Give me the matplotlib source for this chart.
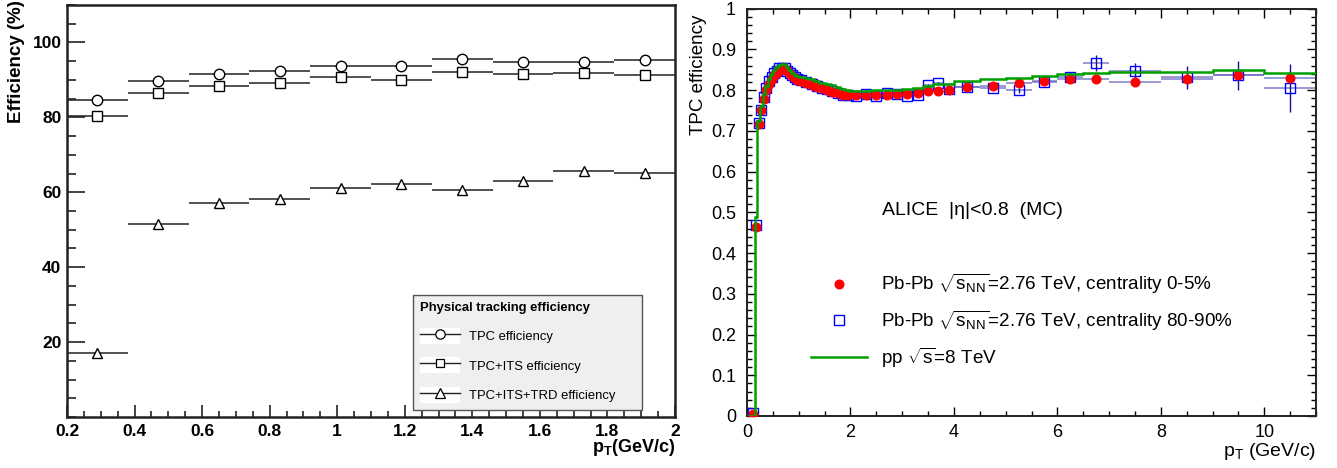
"""Tracking efficiency vs pT: ALICE physical tracking efficiency (left) and
TPC efficiency for Pb-Pb / pp MC (right)."""

import matplotlib

matplotlib.use("Agg")
import matplotlib.pyplot as plt
from matplotlib.lines import Line2D
from matplotlib.patches import Rectangle
from matplotlib.ticker import MultipleLocator

plt.rcParams["font.family"] = ["Liberation Sans", "DejaVu Sans"]
plt.rcParams["mathtext.fontset"] = "custom"
plt.rcParams["mathtext.rm"] = "Liberation Sans"
plt.rcParams["mathtext.it"] = "Liberation Sans:italic"
plt.rcParams["mathtext.bf"] = "Liberation Sans:bold"

# ---- left panel: physical tracking efficiency (%) ----
left_pt = [0.29, 0.47, 0.65, 0.83, 1.01, 1.19, 1.37, 1.55, 1.73, 1.91]
left_halfwidth = 0.09
tpc_eff = [84.7, 89.8, 91.5, 92.5, 93.7, 93.6, 95.7, 94.8, 94.7, 95.4]
tpc_its_eff = [80.3, 86.4, 88.3, 89.2, 90.8, 90.0, 92.1, 91.6, 91.9, 91.3]
tpc_its_trd_eff = [17.2, 51.6, 57.1, 58.2, 61.2, 62.3, 60.7, 63.1, 65.6, 65.2]
left_labels = ["TPC efficiency", "TPC+ITS efficiency", "TPC+ITS+TRD efficiency"]
left_xticks = [0.2, 0.4, 0.6, 0.8, 1.0, 1.2, 1.4, 1.6, 1.8, 2.0]
left_xticklabels = ["0.2", "0.4", "0.6", "0.8", "1", "1.2", "1.4", "1.6", "1.8", "2"]
left_yticks = [20, 40, 60, 80, 100]

# ---- right panel: TPC efficiency ----
pbpb_pt = [0.125, 0.175, 0.225, 0.275, 0.325, 0.375, 0.425, 0.475, 0.525, 0.575,
           0.625, 0.675, 0.725, 0.775, 0.825, 0.875, 0.925, 0.975,
           1.05, 1.15, 1.25, 1.35, 1.45, 1.55, 1.65, 1.75, 1.85, 1.95,
           2.1, 2.3, 2.5, 2.7, 2.9, 3.1, 3.3, 3.5, 3.7, 3.9,
           4.25, 4.75, 5.25, 5.75, 6.25, 6.75, 7.5, 8.5, 9.5, 10.5]
pbpb_xerr = [0.025] * 18 + [0.05] * 10 + [0.1] * 10 + [0.25] * 6 + [0.5] * 4
central_eff = [0.005, 0.465, 0.716, 0.750, 0.778, 0.800, 0.815, 0.827, 0.836, 0.843,
               0.849, 0.852, 0.851, 0.846, 0.840, 0.834, 0.829, 0.825,
               0.822, 0.817, 0.812, 0.808, 0.804, 0.800, 0.795, 0.792, 0.789, 0.788,
               0.787, 0.788, 0.788, 0.789, 0.790, 0.791, 0.793, 0.797, 0.797, 0.801,
               0.807, 0.811, 0.818, 0.822, 0.827, 0.826, 0.821, 0.826, 0.838, 0.830]
peripheral_eff = [0.008, 0.468, 0.718, 0.752, 0.782, 0.805, 0.822, 0.833, 0.842, 0.848,
                  0.853, 0.855, 0.853, 0.848, 0.842, 0.837, 0.832, 0.828,
                  0.824, 0.819, 0.815, 0.811, 0.806, 0.802, 0.797, 0.792, 0.789, 0.787,
                  0.785, 0.790, 0.786, 0.793, 0.790, 0.785, 0.787, 0.812, 0.817, 0.802,
                  0.807, 0.806, 0.800, 0.820, 0.833, 0.866, 0.846, 0.831, 0.836, 0.805]
peripheral_yerr = [0.002] * 38 + [0.004, 0.005, 0.006, 0.008, 0.012, 0.020,
                                  0.020, 0.028, 0.035, 0.058]
pp_edges = [0.0, 0.1, 0.15, 0.2, 0.25, 0.3, 0.35, 0.4, 0.45, 0.5, 0.55, 0.6, 0.65,
            0.7, 0.75, 0.8, 0.85, 0.9, 0.95, 1.0, 1.1, 1.2, 1.3, 1.4, 1.5, 1.6,
            1.7, 1.8, 1.9, 2.0, 2.2, 2.4, 2.6, 2.8, 3.0, 3.2, 3.4, 3.6, 3.8, 4.0,
            4.5, 5.0, 5.5, 6.0, 6.5, 7.0, 8.0, 9.0, 10.0, 11.0]
pp_eff = [0.0, 0.0, 0.489, 0.725, 0.760, 0.790, 0.810, 0.828, 0.840, 0.850, 0.857,
          0.862, 0.865, 0.864, 0.857, 0.849, 0.843, 0.838, 0.835,
          0.832, 0.829, 0.826, 0.822, 0.818, 0.816, 0.813, 0.808, 0.803, 0.800,
          0.798, 0.798, 0.799, 0.800, 0.801, 0.802, 0.806, 0.809, 0.814, 0.816,
          0.822, 0.826, 0.830, 0.834, 0.839, 0.841, 0.845, 0.845, 0.849, 0.843]
right_labels = [r"Pb-Pb $\sqrt{\mathrm{s}_{\mathrm{NN}}}$=2.76 TeV, centrality 0-5%",
                r"Pb-Pb $\sqrt{\mathrm{s}_{\mathrm{NN}}}$=2.76 TeV, centrality 80-90%",
                r"pp $\sqrt{\mathrm{s}}$=8 TeV"]
right_yticks = [0.0, 0.1, 0.2, 0.3, 0.4, 0.5, 0.6, 0.7, 0.8, 0.9, 1.0]
right_yticklabels = ["0", "0.1", "0.2", "0.3", "0.4", "0.5", "0.6", "0.7", "0.8", "0.9", "1"]
right_xticks = [0, 2, 4, 6, 8, 10]

W, H = 1337, 468
fig = plt.figure(figsize=(W / 100, H / 100), dpi=100)
ax1 = fig.add_axes([67 / W, 1 - 417 / H, 608 / W, 412 / H])
ax2 = fig.add_axes([747 / W, 1 - 416 / H, 569 / W, 407.4 / H])

# ---------------- left ----------------
line_col = "#222222"
handles = []
for vals, marker, ms in [(tpc_eff, "o", 7.5), (tpc_its_eff, "s", 7), (tpc_its_trd_eff, "^", 7.5)]:
    ax1.errorbar(left_pt, vals, xerr=left_halfwidth, fmt="none", ecolor=line_col,
                 elinewidth=1.1, capsize=0, zorder=2)
    ax1.plot(left_pt, vals, linestyle="none", marker=marker, ms=ms, mfc="white",
             mec="black", mew=1.0, zorder=3)
    # white box behind each legend symbol, as in the ROOT legend
    handles.append((Rectangle((0, 0), 1, 1, facecolor="white", edgecolor="none"),
                    Line2D([], [], color=line_col, lw=1.0, marker=marker, ms=ms * 0.9,
                           mfc="white", mec="black", mew=0.9)))

ax1.set_xlim(0.2, 2.0)
ax1.set_ylim(0, 110)
ax1.set_xticks(left_xticks)
ax1.set_xticklabels(left_xticklabels)
ax1.set_yticks(left_yticks)
ax1.xaxis.set_minor_locator(MultipleLocator(0.05))
ax1.yaxis.set_minor_locator(MultipleLocator(5))
ax1.tick_params(which="both", direction="in", top=False, right=False, width=1.2,
                labelsize=12.5, color="#222222")
ax1.tick_params(axis="y", which="major", length=13, pad=4)
ax1.tick_params(axis="y", which="minor", length=6.5)
ax1.tick_params(axis="x", which="major", length=9, pad=5)
ax1.tick_params(axis="x", which="minor", length=4)
for lab in ax1.get_xticklabels() + ax1.get_yticklabels():
    lab.set_fontweight("bold")
for sp in ax1.spines.values():
    sp.set_linewidth(1.8)
    sp.set_color("#222222")
ax1.set_xlabel(r"$\mathbf{p_{T}}$(GeV/c)", fontsize=13, fontweight="bold", loc="right")
ax1.xaxis.set_label_coords(1.0, -0.048)
ax1.set_ylabel("Efficiency (%)", fontsize=13.5, fontweight="bold", loc="top")
ax1.yaxis.set_label_coords(-0.069, 1.012)

leg1 = ax1.legend(handles, left_labels, title="Physical tracking efficiency",
                  loc="lower left", bbox_to_anchor=(0.569, 0.017, 0.377, 0.3),
                  mode="expand", fontsize=9.4,
                  title_fontproperties={"weight": "bold", "size": 9.4},
                  frameon=True, fancybox=False, facecolor="#efefef", edgecolor="#555555",
                  framealpha=1, handlelength=3.07, handleheight=1.5, handletextpad=0.64,
                  labelspacing=1.05, borderpad=0.55, borderaxespad=0, alignment="left")
leg1.get_frame().set_linewidth(1.0)

# ---------------- right ----------------
bar_col = "#6a6ac0"
ax2.errorbar(pbpb_pt, peripheral_eff, xerr=pbpb_xerr, fmt="none", ecolor=bar_col,
             elinewidth=1.2, capsize=0, alpha=0.8, zorder=1.9)
ax2.errorbar(pbpb_pt, central_eff, xerr=pbpb_xerr, fmt="none", ecolor=bar_col,
             elinewidth=1.2, capsize=0, alpha=0.8, zorder=1.9)
ax2.errorbar(pbpb_pt, peripheral_eff, yerr=peripheral_yerr, fmt="s",
             ms=7, mfc="none", mec="#0000ff", mew=1.0, ecolor="#10109a",
             elinewidth=1.0, capsize=0, zorder=2)
ax2.plot(pbpb_pt, central_eff, linestyle="none", marker="o", ms=6.2,
         color="#ff0000", mec="#ff0000", zorder=3)
ax2.stairs(pp_eff, pp_edges, baseline=None, color="#00a000", lw=1.8, zorder=4)

ax2.set_xlim(0, 11)
ax2.set_ylim(0, 1.0)
ax2.set_xticks(right_xticks)
ax2.set_yticks(right_yticks)
ax2.set_yticklabels(right_yticklabels)
ax2.xaxis.set_minor_locator(MultipleLocator(0.5))
ax2.yaxis.set_minor_locator(MultipleLocator(0.02))
ax2.tick_params(which="both", direction="in", top=True, right=True, width=1.0,
                labelsize=13)
ax2.tick_params(which="major", length=6.5)
ax2.tick_params(which="minor", length=3.3)
ax2.tick_params(axis="y", which="major", pad=8)
ax2.tick_params(axis="x", which="major", pad=6)
for sp in ax2.spines.values():
    sp.set_linewidth(1.4)
    sp.set_color("#222222")
ax2.set_xlabel(r"p$_{\mathrm{T}}$ (GeV/c)", fontsize=14, loc="right")
ax2.xaxis.set_label_coords(1.0, -0.062)
ax2.set_ylabel("TPC efficiency", fontsize=13.5, loc="top")
ax2.yaxis.set_label_coords(-0.070, 0.984)

ax2.text(0.237, 0.505, "ALICE  |\u03b7|<0.8  (MC)", transform=ax2.transAxes,
         fontsize=14, va="center", ha="left")

right_handles = [
    Line2D([], [], linestyle="none", marker="o", ms=6.2, color="#ff0000"),
    Line2D([], [], linestyle="none", marker="s", ms=7, mfc="none", mec="#0000ff", mew=1.0),
    Line2D([], [], color="#00a000", lw=1.8),
]
ax2.legend(right_handles, right_labels, loc="upper left", bbox_to_anchor=(0.112, 0.353),
           frameon=False, fontsize=13.6, handlelength=3.0, handletextpad=0.7,
           labelspacing=0.67, borderpad=0, borderaxespad=0)

fig.savefig("out.png", dpi=100)
